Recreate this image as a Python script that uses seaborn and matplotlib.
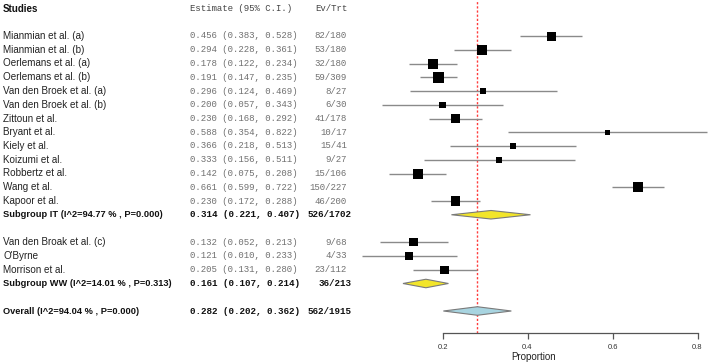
import numpy as np
import pandas as pd
import matplotlib.pyplot as plt
import seaborn as sns
from matplotlib.transforms import blended_transform_factory

# --- data ---
it_studies = ['Mianmian et al. (a)', 'Mianmian et al. (b)', 'Oerlemans et al. (a)',
              'Oerlemans et al. (b)', 'Van den Broek et al. (a)', 'Van den Broek et al. (b)',
              'Zittoun et al.', 'Bryant et al.', 'Kiely et al.', 'Koizumi et al.',
              'Robbertz et al.', 'Wang et al.', 'Kapoor et al.']
it_est = [0.456, 0.294, 0.178, 0.191, 0.296, 0.200, 0.230, 0.588, 0.366, 0.333, 0.142, 0.661, 0.230]
it_lo = [0.383, 0.228, 0.122, 0.147, 0.124, 0.057, 0.168, 0.354, 0.218, 0.156, 0.075, 0.599, 0.172]
it_hi = [0.528, 0.361, 0.234, 0.235, 0.469, 0.343, 0.292, 0.822, 0.513, 0.511, 0.208, 0.722, 0.288]
it_ev = [82, 53, 32, 59, 8, 6, 41, 10, 15, 9, 15, 150, 46]
it_trt = [180, 180, 180, 309, 27, 30, 178, 17, 41, 27, 106, 227, 200]
it_weight = [8.1, 10.0, 10.0, 12.1, 3.6, 4.2, 9.0, 2.5, 4.2, 3.6, 10.0, 10.0, 9.0]

ww_studies = ['Van den Broak et al. (c)', "O'Byrne", 'Morrison et al.']
ww_est = [0.132, 0.121, 0.205]
ww_lo = [0.052, 0.010, 0.131]
ww_hi = [0.213, 0.233, 0.280]
ww_ev = [9, 4, 23]
ww_trt = [68, 33, 112]
ww_weight = [7.2, 6.4, 7.2]

sum_labels = ['Subgroup IT (I^2=94.77 % , P=0.000)',
              'Subgroup WW (I^2=14.01 % , P=0.313)',
              'Overall (I^2=94.04 % , P=0.000)']
sum_est = [0.314, 0.161, 0.282]
sum_lo = [0.221, 0.107, 0.202]
sum_hi = [0.407, 0.214, 0.362]
sum_ev = [526, 36, 562]
sum_trt = [1702, 213, 1915]
sum_fill = ['#f2e52a', '#f2e52a', '#a8d4e0']

xticks = [0.2, 0.4, 0.6, 0.8]

# --- row layout ---
it_rows = list(range(len(it_studies)))
it_sum_row = len(it_studies)
ww_rows = [it_sum_row + 2 + i for i in range(len(ww_studies))]
ww_sum_row = ww_rows[-1] + 1
all_row = ww_sum_row + 2
sum_rows = [it_sum_row, ww_sum_row, all_row]

df = pd.DataFrame({
    'study': it_studies + ww_studies,
    'est': it_est + ww_est,
    'lo': it_lo + ww_lo,
    'hi': it_hi + ww_hi,
    'ev': it_ev + ww_ev,
    'trt': it_trt + ww_trt,
    'weight': it_weight + ww_weight,
    'row': it_rows + ww_rows,
})

sns.set_style('white')
plt.rcParams['font.family'] = ['Liberation Sans', 'DejaVu Sans']

W, H = 709, 362
fig = plt.figure(figsize=(W / 100, H / 100), dpi=100)
x0 = 357.5
ax = fig.add_axes([x0 / W, (H - 333) / H, (W - x0) / W, 333 / H])
xmax = (W - x0) / 425.0
row0, row_h = 36.0, 13.75
ax.set_xlim(0, xmax)
ax.set_ylim((333 - row0) / row_h, -row0 / row_h)

# pooled line
ax.axvline(sum_est[2], color='#ff3b3b', lw=1.0, ls=(0, (1.6, 1.4)), zorder=1)

# CI lines
ax.hlines(df['row'], df['lo'], df['hi'], color='#8a8a8a', lw=1.0, zorder=2)

# boxes, area proportional to weight
smax = (11 * 0.72) ** 2
sns.scatterplot(data=df, x='est', y='row', size='weight', sizes=(0, smax),
                size_norm=(0, max(df['weight'])), marker='s', color='black',
                linewidth=0, legend=False, ax=ax, zorder=3)

# diamonds
dh = 0.31
for r, e, lo, hi, c in zip(sum_rows, sum_est, sum_lo, sum_hi, sum_fill):
    ax.fill([lo, e, hi, e], [r, r - dh, r, r + dh], facecolor=c,
            edgecolor='#7a7a7a', lw=0.8, zorder=3)

# axis styling
for s in ['left', 'right', 'top']:
    ax.spines[s].set_visible(False)
ax.spines['bottom'].set_bounds(xticks[0], xticks[-1])
ax.spines['bottom'].set_color('#555555')
ax.spines['bottom'].set_linewidth(0.9)
ax.set_xticks(xticks)
ax.set_xticklabels([f'{t:.1f}' for t in xticks])
ax.tick_params(axis='x', direction='out', length=4, width=0.9, color='#555555',
               labelsize=5.5, labelcolor='#333333', pad=4, bottom=True)
ax.set_yticks([])
ax.set_xlabel('Proportion', fontsize=7, color='#222222', labelpad=1)
ax.set_ylabel('')

# text table
tr = blended_transform_factory(fig.transFigure, ax.transData)
mono = ['Liberation Mono', 'DejaVu Sans Mono']
name_fs, bold_fs, mono_fs = 7.1, 6.7, 6.5
name_x, est_x, ev_x = 3 / W, 190 / W, 347 / W
hdr_row = -2
ax.text(name_x, hdr_row, 'Studies', transform=tr, fontsize=7.0, fontweight='bold',
        va='center', ha='left', color='#111111')
ax.text(est_x, hdr_row, 'Estimate (95% C.I.)', transform=tr, fontsize=mono_fs, family=mono,
        va='center', ha='left', color='#444444')
ax.text(ev_x, hdr_row, 'Ev/Trt', transform=tr, fontsize=mono_fs, family=mono,
        va='center', ha='right', color='#444444')

for _, d in df.iterrows():
    ax.text(name_x, d['row'], d['study'], transform=tr, fontsize=name_fs,
            va='center', ha='left', color='#222222')
    ax.text(est_x, d['row'], f"{d['est']:.3f} ({d['lo']:.3f}, {d['hi']:.3f})",
            transform=tr, fontsize=mono_fs, family=mono, va='center', ha='left', color='#707070')
    ax.text(ev_x, d['row'], f"{int(d['ev'])}/{int(d['trt'])}", transform=tr,
            fontsize=mono_fs, family=mono, va='center', ha='right', color='#707070')

for r, lab, e, lo, hi, ev, trt in zip(sum_rows, sum_labels, sum_est, sum_lo, sum_hi,
                                      sum_ev, sum_trt):
    ax.text(name_x, r, lab, transform=tr, fontsize=bold_fs, fontweight='bold',
            va='center', ha='left', color='#111111')
    ax.text(est_x, r, f'{e:.3f} ({lo:.3f}, {hi:.3f})', transform=tr, fontsize=mono_fs + 0.2,
            family=mono, fontweight='bold', va='center', ha='left', color='#111111')
    ax.text(ev_x + 5 / W, r, f'{ev}/{trt}', transform=tr, fontsize=mono_fs + 0.2, family=mono,
            fontweight='bold', va='center', ha='right', color='#111111')

fig.savefig('out.png', dpi=100)
